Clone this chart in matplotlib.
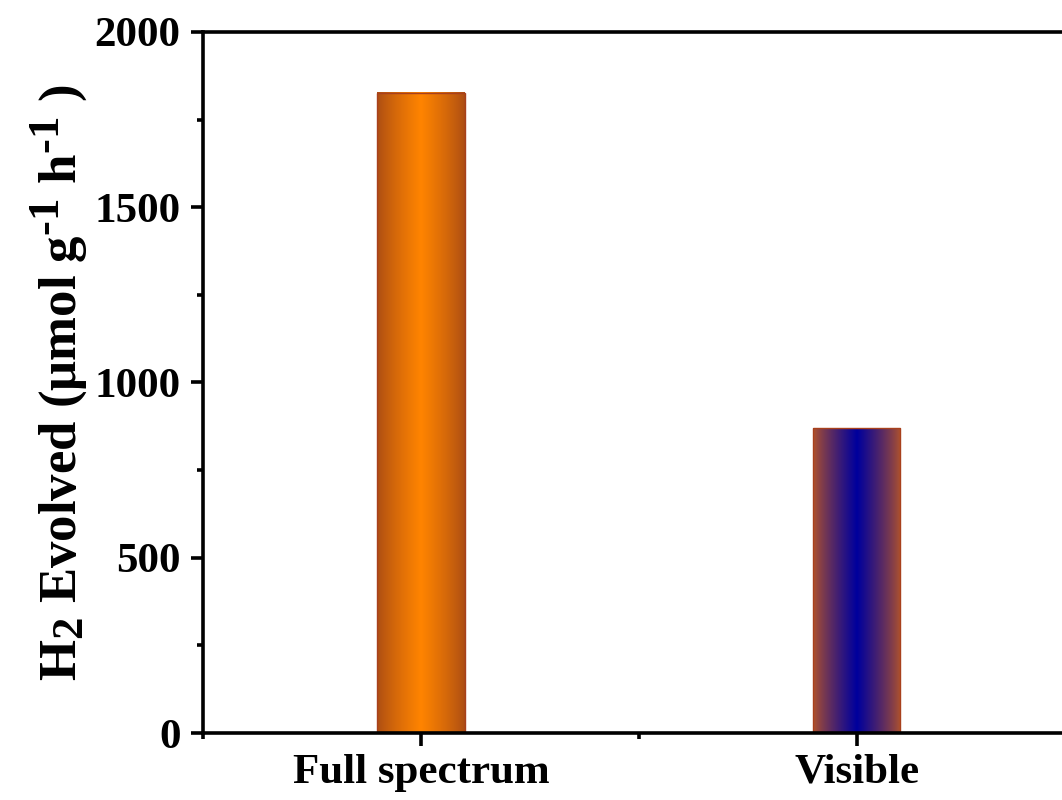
import numpy as np
import matplotlib
matplotlib.use('Agg')
import matplotlib.pyplot as plt
import matplotlib._mathtext as mt
from matplotlib.colors import LinearSegmentedColormap
from matplotlib.ticker import MultipleLocator

# data
conditions = ['Full spectrum', 'Visible']
h2_rates = [1826, 869]
edge_colors = ['#aa4c14', '#b4552a']
centre_colors = ['#ff8400', '#00009c']
bar_width = 0.2

# bigger sub/superscripts, like the original label
mt.SHRINK_FACTOR = 0.85

plt.rcParams['font.family'] = ['Liberation Serif', 'DejaVu Serif']
plt.rcParams['font.weight'] = 'bold'
plt.rcParams['mathtext.fontset'] = 'custom'
plt.rcParams['mathtext.rm'] = 'Liberation Serif:bold'
plt.rcParams['mathtext.bf'] = 'Liberation Serif:bold'
plt.rcParams['mathtext.it'] = 'Liberation Serif:bold'

fig = plt.figure(figsize=(10.62, 8), dpi=100)
ax = fig.add_axes([0.1911, 0.08375, 0.821, 0.87625])

xpos = np.arange(1, len(conditions) + 1)

# gradient-filled bars
grad = np.concatenate([np.linspace(0, 1, 128), np.linspace(1, 0, 128)]) ** 0.8
grad = grad[None, :]
for x, v, ec, cc in zip(xpos, h2_rates, edge_colors, centre_colors):
    cmap = LinearSegmentedColormap.from_list('g', [ec, cc])
    ax.imshow(grad, cmap=cmap, aspect='auto', interpolation='bilinear',
              extent=[x - bar_width / 2, x + bar_width / 2, 0, v], zorder=1)
ax.bar(xpos, h2_rates, bar_width, color='none', edgecolor='#a8401c',
       linewidth=1.0, zorder=2)

ax.set_xlim(0.5, 2.5)
ax.set_ylim(0, 2000)
ax.set_xticks(xpos)
ax.set_xticklabels(conditions)
ax.xaxis.set_minor_locator(MultipleLocator(0.5))
ax.yaxis.set_major_locator(MultipleLocator(500))
ax.yaxis.set_minor_locator(MultipleLocator(250))

for s in ax.spines.values():
    s.set_linewidth(2.6)
ax.tick_params(which='major', direction='out', length=9, width=2.6,
               labelsize=31, pad=6)
ax.tick_params(which='minor', direction='out', length=4.5, width=2.6)
ax.tick_params(axis='y', which='major', pad=7)

ax.set_ylabel(r'H$_2$ Evolved (μmol g$^{\text{-1}}$ h$^{\text{-1}}$ )',
              fontsize=38, fontweight='bold', labelpad=3)

fig.savefig('out.png', dpi=100)
